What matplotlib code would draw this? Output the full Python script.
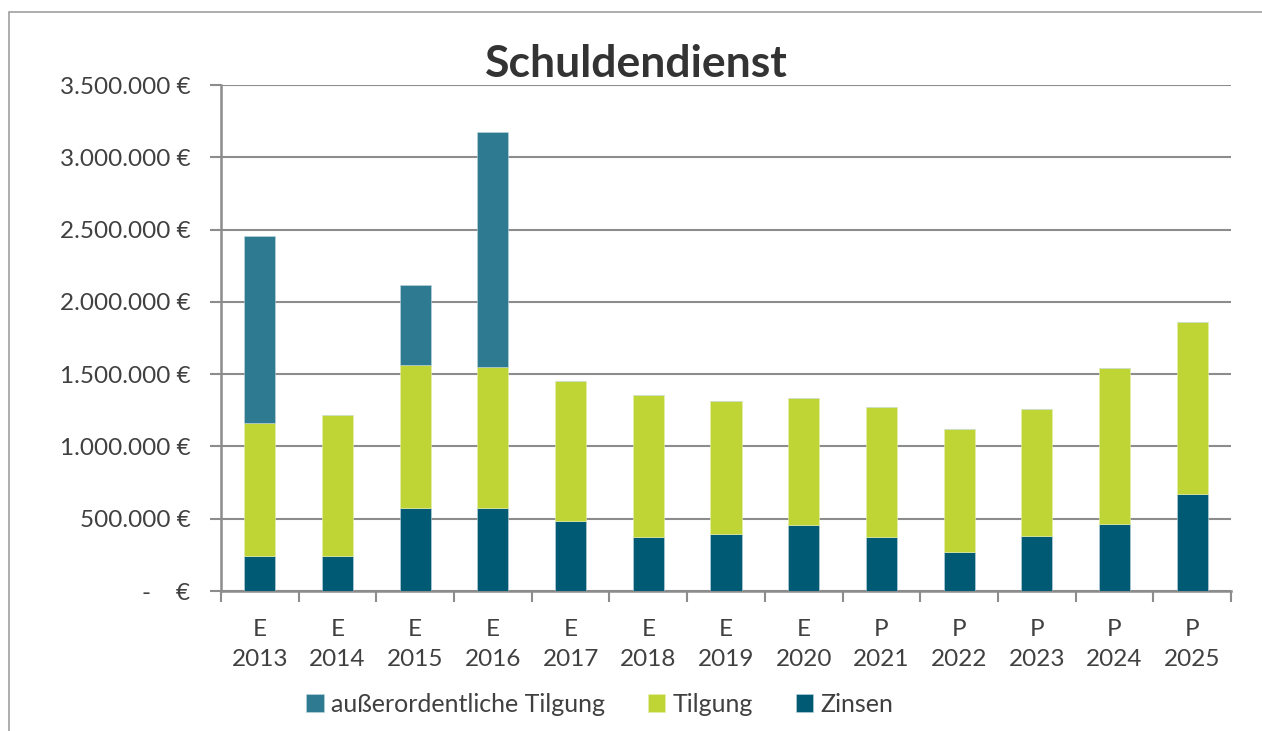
import matplotlib
matplotlib.use("Agg")
import matplotlib.pyplot as plt
import numpy as np
from matplotlib.ticker import FuncFormatter, FixedLocator
from matplotlib.patches import Rectangle

plt.rcParams['font.family'] = ['Lato', 'DejaVu Sans']

years = ["2013", "2014", "2015", "2016", "2017", "2018", "2019", "2020",
         "2021", "2022", "2023", "2024", "2025"]
status = ["E", "E", "E", "E", "E", "E", "E", "E", "P", "P", "P", "P", "P"]
zinsen = [242000, 242000, 574000, 574000, 484000, 373000, 394000, 456000,
          373000, 270000, 380000, 463000, 671000]
tilgung = [920000, 975000, 989000, 975000, 968000, 983000, 920000, 879000,
           900000, 850000, 879000, 1079000, 1189000]
ausserord = [1291000, 0, 552000, 1626000, 0, 0, 0, 0, 0, 0, 0, 0, 0]

c_auss = "#2E7A91"
c_tilg = "#BED535"
c_zins = "#005A73"
grid_c = "#8C8C8C"
txt_c = "#404040"

W, H = 1262, 731
fig = plt.figure(figsize=(W / 100, H / 100), dpi=100)
# outer frame
fig.add_artist(Rectangle((9 / W, -0.1), 1.2, (1 - 12 / H) + 0.1, transform=fig.transFigure,
                         fill=False, edgecolor="#A0A0A0", lw=1.2))

ax = fig.add_axes([221 / W, 1 - 591 / H, (1231 - 221) / W, (591 - 85) / H])

x = np.arange(len(years))
bw = 0.40
z = np.array(zinsen)
t = np.array(tilgung)
a = np.array(ausserord)
ax.bar(x, z, bw, color=c_zins, edgecolor="#BFD7DE", lw=0.4, label="Zinsen", zorder=3)
ax.bar(x, t, bw, bottom=z, color=c_tilg, edgecolor="#E6F0B0", lw=0.4, label="Tilgung", zorder=3)
ax.bar(x, a, bw, bottom=z + t, color=c_auss, edgecolor="#BFD7DE", lw=0.4,
       label="außerordentliche Tilgung", zorder=3)

ax.set_xlim(-0.5, len(years) - 0.5)
ax.set_ylim(0, 3500000)
ax.set_yticks(np.arange(0, 3500001, 500000))


def fmt(v, pos):
    if v == 0:
        return "-    €"
    return "{:,.0f} €".format(v).replace(",", ".")


ax.yaxis.set_major_formatter(FuncFormatter(fmt))
ax.grid(axis="y", color=grid_c, lw=1.5, zorder=0)
ax.set_xticks(x)
ax.set_xticklabels([f"{s}\n{y}" for s, y in zip(status, years)], linespacing=1.55)
ax.xaxis.set_minor_locator(FixedLocator(np.arange(-0.5, len(years), 1.0)))
ax.tick_params(axis="x", which="major", length=0, pad=20, labelsize=17.5, labelcolor=txt_c)
ax.tick_params(axis="x", which="minor", length=8, width=1.5, color=grid_c)
ax.tick_params(axis="y", length=8, width=1.5, color=grid_c, pad=14, labelsize=17.5, labelcolor=txt_c)
for s in ["top", "right"]:
    ax.spines[s].set_visible(False)
for s in ["left", "bottom"]:
    ax.spines[s].set_color(grid_c)
    ax.spines[s].set_linewidth(1.8)

fig.text(636 / W, 1 - 64 / H, "Schuldendienst", ha="center", va="center",
         fontsize=32, fontweight="bold", color="#333333")

h, l = ax.get_legend_handles_labels()
order = [2, 1, 0]
leg = fig.legend([h[i] for i in order], [l[i] for i in order], loc="center",
                 bbox_to_anchor=(600 / W, 1 - 704 / H), ncol=3, frameon=False,
                 fontsize=18, handlelength=0.7, handleheight=0.7, handletextpad=0.3,
                 columnspacing=1.7, labelcolor=txt_c)

fig.savefig("out.png", dpi=100)
